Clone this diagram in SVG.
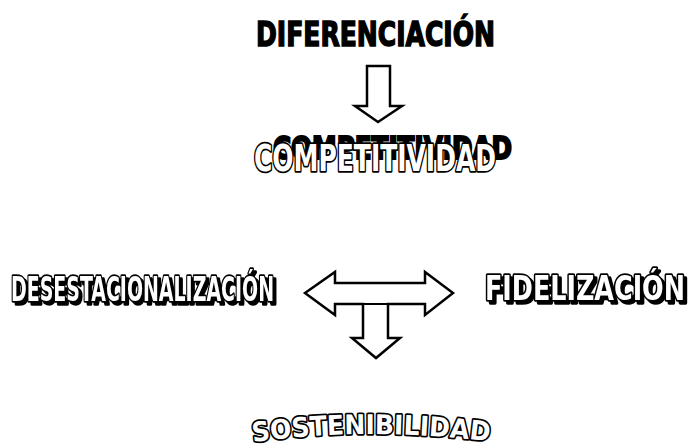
<svg xmlns="http://www.w3.org/2000/svg" width="699" height="448" viewBox="0 0 699 448">
<style>
.heavy{font-family:"DejaVu Sans",sans-serif;font-weight:900;fill:#000;stroke:#000;stroke-width:1.6}
.cond{font-family:"DejaVu Sans Condensed","DejaVu Sans",sans-serif;font-stretch:condensed;font-weight:bold}
.out{fill:#fff;stroke:#000;stroke-width:3.5;stroke-linejoin:round;paint-order:stroke}
.shd{fill:#000;stroke:#000;stroke-width:2}
.arrow{fill:#fff;stroke:#000;stroke-width:2.5;stroke-linejoin:miter}
.round{font-family:"DejaVu Sans",sans-serif;font-weight:bold}
</style>
<defs>
<path id="arc" d="M253,442 Q372,426 492,442"/>
<filter id="drop" filterUnits="userSpaceOnUse" x="0" y="250" width="699" height="80">
<feOffset in="SourceAlpha" dx="3" dy="3" result="o"/>
<feMerge><feMergeNode in="o"/><feMergeNode in="SourceGraphic"/></feMerge>
</filter>
</defs>
<rect width="699" height="448" fill="#fff"/>
<g id="connectors">
<polygon class="arrow" points="367,66 390,66 390,106 402,106 378,122 355,106 367,106"/>
<path class="arrow" d="M305,293 L335,272 L335,283 L425,283 L425,272 L453,293 L425,315 L425,304 L388,304 L388,338 L400,338 L376,358 L352,338 L363,338 L363,304 L335,304 L335,315 Z"/>
<line x1="363" y1="304" x2="388" y2="304" stroke="#000" stroke-width="2"/>
</g>
<g id="diferenciacion">
<text class="heavy" x="256" y="46" font-size="34" textLength="239" lengthAdjust="spacingAndGlyphs">DIFERENCIACIÓN</text>
</g>
<g id="competitividad">
<text class="cond shd" x="273" y="159" font-size="32" textLength="239" lengthAdjust="spacingAndGlyphs">COMPETITIVIDAD</text>
<text class="cond out" x="254" y="171" font-size="38" stroke-width="4" textLength="242" lengthAdjust="spacingAndGlyphs">COMPETITIVIDAD</text>
</g>
<g id="desestacionalizacion" filter="url(#drop)">
<text class="cond out" x="11" y="301" font-size="34" textLength="263" lengthAdjust="spacingAndGlyphs">DESESTACIONALIZACIÓN</text>
</g>
<g id="fidelizacion" filter="url(#drop)">
<text class="cond out" x="485" y="300" font-size="33" textLength="200" lengthAdjust="spacingAndGlyphs">FIDELIZACIÓN</text>
</g>
<g id="sostenibilidad">
<text class="round out" font-size="27" stroke-width="3.5"><textPath href="#arc" textLength="237" lengthAdjust="spacingAndGlyphs">SOSTENIBILIDAD</textPath></text>
</g>
</svg>
